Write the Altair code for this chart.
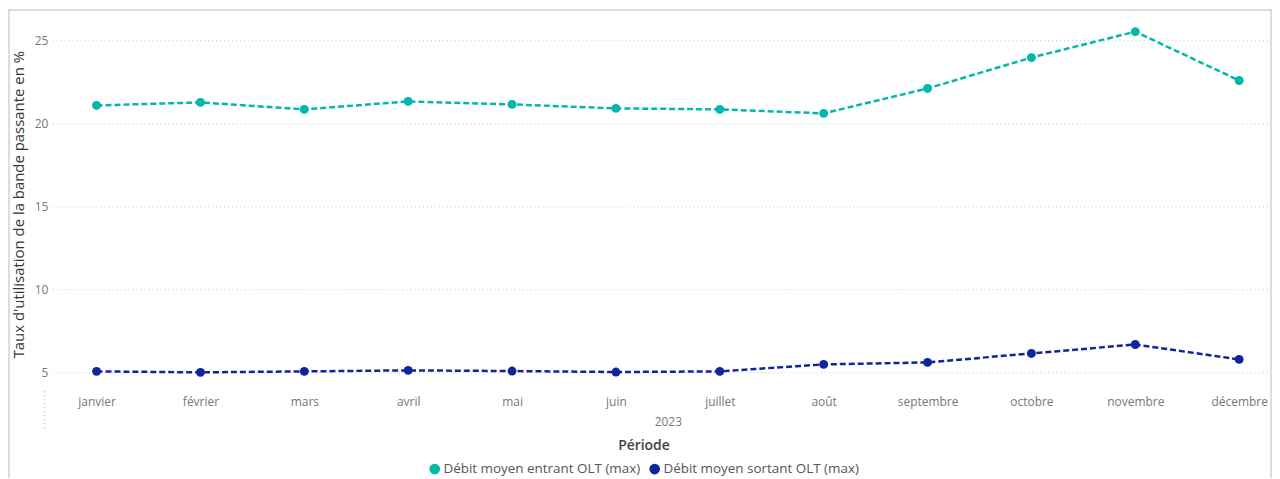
import altair as alt
import pandas as pd

mois = ["janvier", "février", "mars", "avril", "mai", "juin", "juillet",
        "août", "septembre", "octobre", "novembre", "décembre"]
entrant = [21.1, 21.28, 20.86, 21.34, 21.16, 20.92, 20.86, 20.62, 22.12, 23.98, 25.54, 22.6]
sortant = [5.08, 5.02, 5.08, 5.14, 5.1, 5.04, 5.08, 5.5, 5.62, 6.16, 6.7, 5.8]
series = ["Débit moyen entrant OLT (max)", "Débit moyen sortant OLT (max)"]
colors = ["#01B8AA", "#12239E"]
y_ticks = [5, 10, 15, 20, 25]

rows = []
for name, vals in zip(series, [entrant, sortant]):
    for m, v in zip(mois, vals):
        rows.append({"mois": m, "serie": name, "valeur": v})
df = pd.DataFrame(rows)
grid_df = pd.DataFrame({"tick": y_ticks})

FONT = "Open Sans"
W, H = 1222, 372

y_scale = alt.Scale(domain=[4, 26.3], nice=False, zero=False)

x_enc = alt.X(
    "mois:N", sort=mois,
    scale=alt.Scale(type="point", range=[44, 1192], padding=0),
    axis=alt.Axis(title="2023", labelAngle=0, domain=False, ticks=False, grid=False,
                  labelColor="#777777", labelFontSize=12, labelPadding=7, labelFont=FONT,
                  titleColor="#777777", titleFontSize=12, titleFontWeight="normal",
                  titlePadding=9, titleFont=FONT),
)
y_enc = alt.Y(
    "valeur:Q", scale=y_scale,
    axis=alt.Axis(values=y_ticks, title="Taux d'utilisation de la bande passante en %",
                  domain=False, ticks=False, grid=False,
                  labelColor="#777777", labelFontSize=12, labelPadding=5, labelFont=FONT,
                  titleColor="#333333", titleFontSize=15, titleFontWeight="normal",
                  titlePadding=8, titleFont=FONT),
)
legend = alt.Legend(
    title="Période", orient="none", legendX=377, legendY=422, direction="horizontal",
    titleOrient="top", titleAnchor="middle", titleFontSize=14, titleFontWeight=600,
    titleColor="#444444", titleFont=FONT, titlePadding=9, padding=0,
    symbolType="circle", symbolSize=115, symbolStrokeWidth=0, symbolOpacity=1,
    labelFontSize=13.5, labelColor="#555555", labelFont=FONT, labelOffset=2, columnPadding=7,
    labelLimit=0,
)
color_enc = alt.Color("serie:N", sort=series,
                      scale=alt.Scale(domain=series, range=colors), legend=legend)

grid = alt.Chart(grid_df).mark_rule(
    strokeDash=[1, 3], color="#c8c8c8", strokeWidth=1
).encode(y=alt.Y("tick:Q", scale=y_scale), x=alt.value(0), x2=alt.value(W))

base = alt.Chart(df)
points = base.mark_circle(size=80, opacity=1).encode(x=x_enc, y=y_enc, color=color_enc)
lines = base.mark_line(strokeDash=[6, 3], strokeWidth=2.5).encode(x=x_enc, y=y_enc, color=color_enc)

sep = alt.Chart(alt.Data(values=[{}])).mark_rule(
    strokeDash=[1, 3], color="#999999", strokeWidth=1
).encode(x=alt.value(-8), y=alt.value(374), y2=alt.value(414))

frame = alt.Chart(alt.Data(values=[{}])).mark_rect(
    fillOpacity=0, stroke="#dddddd", strokeWidth=2
).encode(x=alt.value(-44), x2=alt.value(1224), y=alt.value(-9), y2=alt.value(520))

chart = alt.layer(frame, grid, sep, lines, points).properties(
    width=W, height=H,
    padding={"left": 45, "top": 10, "right": 3, "bottom": 88},
    autosize=alt.AutoSizeParams(type="none"),
).configure_view(stroke=None)

chart.save("out.html", embed_options={"renderer": "svg", "actions": False})
